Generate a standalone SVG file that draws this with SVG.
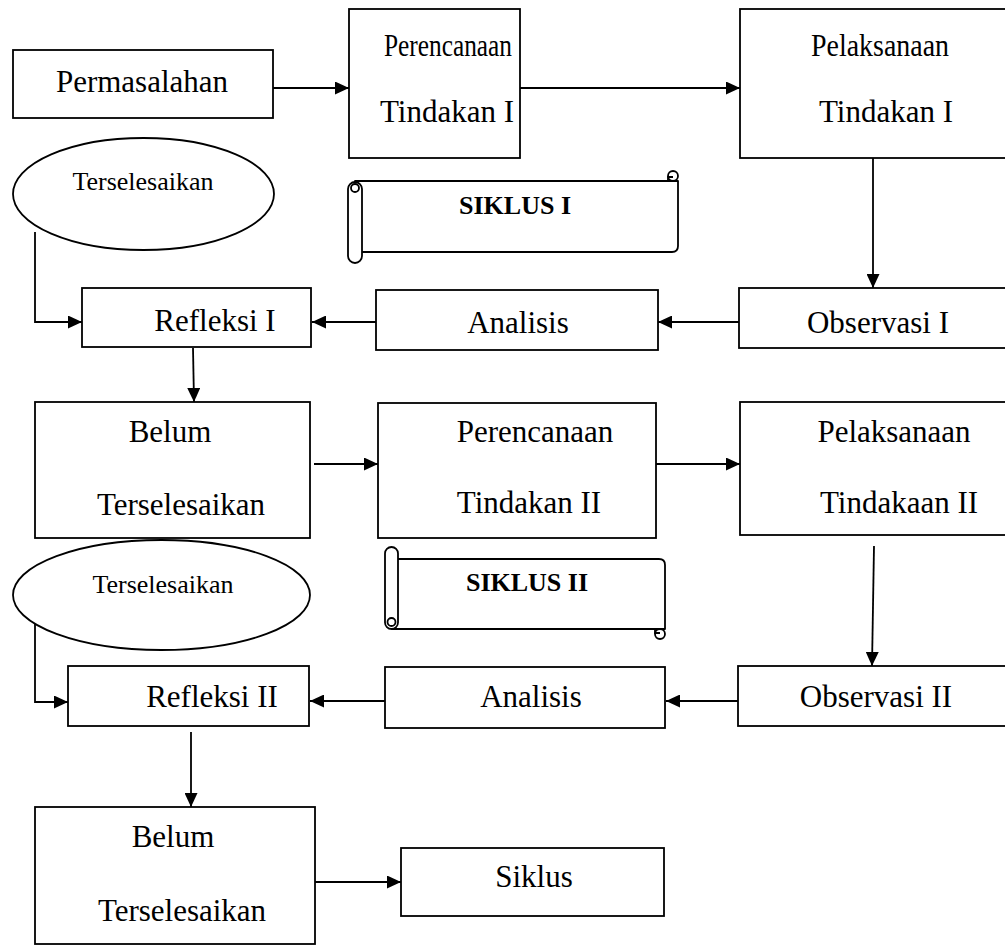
<svg xmlns="http://www.w3.org/2000/svg" width="1005" height="946" viewBox="0 0 1005 946">
<defs>
<style>
.box{fill:#fff;stroke:#000;stroke-width:1.8}
.t{font-family:"Liberation Serif","Times New Roman",serif;font-size:31px;fill:#000;text-anchor:middle}
.ts{font-family:"Liberation Serif","Times New Roman",serif;font-size:26px;fill:#000;text-anchor:middle}
.tb{font-family:"Liberation Serif","Times New Roman",serif;font-size:26px;font-weight:bold;fill:#000;text-anchor:middle}
.c{fill:none;stroke:#000;stroke-width:1.8}
.sc{fill:#fff;stroke:#000;stroke-width:1.8;stroke-linejoin:round}
</style>
<marker id="ah" markerUnits="userSpaceOnUse" markerWidth="15" markerHeight="13" refX="14" refY="6.5" orient="auto">
<path d="M0,0 L14,6.5 L0,13 Z" fill="#000"/>
</marker>
</defs>
<rect width="1005" height="946" fill="#fff"/>

<g id="connectors">
<line class="c" x1="273" y1="88" x2="349" y2="88" marker-end="url(#ah)"/>
<line class="c" x1="520" y1="88" x2="740" y2="88" marker-end="url(#ah)"/>
<line class="c" x1="873" y1="158" x2="873" y2="288" marker-end="url(#ah)"/>
<line class="c" x1="739" y1="322" x2="658" y2="322" marker-end="url(#ah)"/>
<line class="c" x1="376" y1="322" x2="312" y2="322" marker-end="url(#ah)"/>
<path class="c" d="M35,232 V322 H82" marker-end="url(#ah)"/>
<line class="c" x1="193" y1="348" x2="194" y2="402" marker-end="url(#ah)"/>
<line class="c" x1="314" y1="464" x2="378" y2="464" marker-end="url(#ah)"/>
<line class="c" x1="656" y1="464" x2="740" y2="464" marker-end="url(#ah)"/>
<line class="c" x1="874" y1="546" x2="872" y2="666" marker-end="url(#ah)"/>
<line class="c" x1="738" y1="701" x2="666" y2="701" marker-end="url(#ah)"/>
<line class="c" x1="385" y1="701" x2="310" y2="701" marker-end="url(#ah)"/>
<path class="c" d="M35,623 V702 H68" marker-end="url(#ah)"/>
<line class="c" x1="191" y1="732" x2="191" y2="807" marker-end="url(#ah)"/>
<line class="c" x1="315" y1="882" x2="401" y2="882" marker-end="url(#ah)"/>
</g>

<g id="permasalahan">
<rect class="box" x="13" y="50" width="260" height="68"/>
<text class="t" x="142" y="92">Permasalahan</text>
</g>

<g id="perencanaan1">
<rect class="box" x="349" y="9" width="171" height="149"/>
<text class="t" x="448" y="56" textLength="128" lengthAdjust="spacingAndGlyphs">Perencanaan</text>
<text class="t" x="447" y="122">Tindakan I</text>
</g>

<g id="pelaksanaan1">
<rect class="box" x="740" y="9" width="272" height="149"/>
<text class="t" x="880" y="56" textLength="138" lengthAdjust="spacingAndGlyphs">Pelaksanaan</text>
<text class="t" x="886" y="122">Tindakan I</text>
</g>

<g id="terselesaikan1">
<ellipse class="box" cx="143.5" cy="194" rx="130.5" ry="56"/>
<text class="ts" x="143" y="190">Terselesaikan</text>
</g>

<g id="siklus1">
<path class="sc" d="M355,181 H678 V246 Q678,252 672,252 H355 Z"/>
<circle class="sc" cx="673" cy="176" r="5"/>
<path class="c" d="M668,181 V177 H673" stroke-width="1.2"/>
<rect class="sc" x="348" y="182" width="14" height="81" rx="7"/>
<circle class="c" cx="355" cy="188" r="4" stroke-width="1.4"/>
<text class="tb" x="515" y="214">SIKLUS I</text>
</g>

<g id="refleksi1">
<rect class="box" x="82" y="288" width="229" height="59"/>
<text class="t" x="215" y="331">Refleksi I</text>
</g>

<g id="analisis1">
<rect class="box" x="376" y="290" width="282" height="60"/>
<text class="t" x="518" y="333">Analisis</text>
</g>

<g id="observasi1">
<rect class="box" x="739" y="288" width="273" height="60"/>
<text class="t" x="878" y="333">Observasi I</text>
</g>

<g id="belum1">
<rect class="box" x="35" y="402" width="275" height="136"/>
<text class="t" x="170" y="442">Belum</text>
<text class="t" x="181" y="515">Terselesaikan</text>
</g>

<g id="perencanaan2">
<rect class="box" x="378" y="403" width="278" height="135"/>
<text class="t" x="535" y="442">Perencanaan</text>
<text class="t" x="529" y="513">Tindakan II</text>
</g>

<g id="pelaksanaan2">
<rect class="box" x="740" y="402" width="272" height="133"/>
<text class="t" x="894" y="442">Pelaksanaan</text>
<text class="t" x="899" y="513">Tindakaan II</text>
</g>

<g id="terselesaikan2">
<ellipse class="box" cx="161.5" cy="595" rx="148.5" ry="55"/>
<text class="ts" x="163" y="593">Terselesaikan</text>
</g>

<g id="siklus2">
<path class="sc" d="M392,559 H659 Q665,559 665,565 V629 H392 Z"/>
<circle class="sc" cx="660" cy="634" r="5"/>
<path class="c" d="M655,629 V633 H660" stroke-width="1.2"/>
<rect class="sc" x="385" y="547" width="13" height="82" rx="6.5"/>
<circle class="c" cx="391.5" cy="622" r="4" stroke-width="1.4"/>
<text class="tb" x="527" y="591">SIKLUS II</text>
</g>

<g id="refleksi2">
<rect class="box" x="68" y="666" width="241" height="60"/>
<text class="t" x="212" y="707">Refleksi II</text>
</g>

<g id="analisis2">
<rect class="box" x="385" y="667" width="280" height="61"/>
<text class="t" x="531" y="707">Analisis</text>
</g>

<g id="observasi2">
<rect class="box" x="738" y="666" width="274" height="60"/>
<text class="t" x="876" y="707">Observasi II</text>
</g>

<g id="belum2">
<rect class="box" x="35" y="807" width="280" height="137"/>
<text class="t" x="173" y="847">Belum</text>
<text class="t" x="182" y="921">Terselesaikan</text>
</g>

<g id="siklus">
<rect class="box" x="401" y="848" width="263" height="68"/>
<text class="t" x="534" y="887">Siklus</text>
</g>
</svg>
